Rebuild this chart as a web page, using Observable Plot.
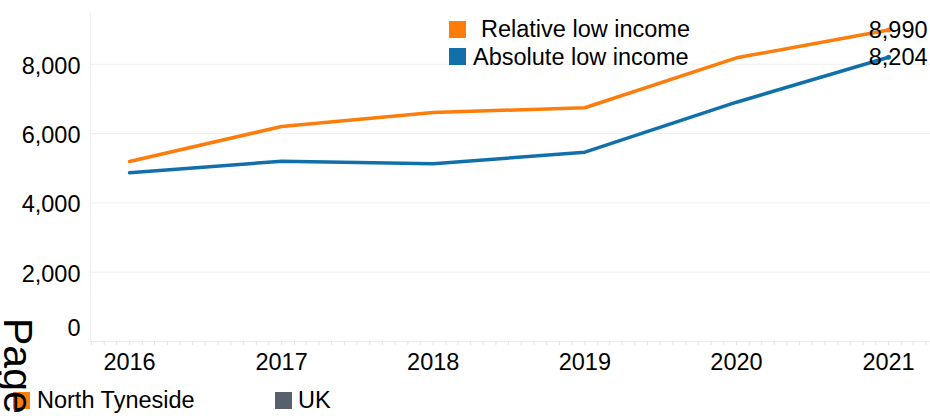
<!DOCTYPE html>
<html>
<head>
<meta charset="utf-8">
<script src="https://cdn.jsdelivr.net/npm/d3@7"></script>
<script src="https://cdn.jsdelivr.net/npm/@observablehq/plot@0.6"></script>
<style>
  html, body { margin: 0; padding: 0; background: #fff; }
  #wrap { position: relative; width: 930px; height: 416px; overflow: hidden; font-family: "Liberation Sans", Arial, sans-serif; }
  #overlay { position: absolute; left: 0; top: 0; pointer-events: none; }
</style>
</head>
<body>
<div id="wrap"></div>
<script>
// ---- data ----
const years = [2016, 2017, 2018, 2019, 2020, 2021];
const relativeLowIncome = [5195, 6205, 6609, 6745, 8187, 8990];
const absoluteLowIncome = [4869, 5204, 5128, 5463, 6906, 8204];
const seriesNames = ["Relative low income", "Absolute low income"];
const seriesColors = ["#fc7d0b", "#1170aa"];
const areaNames = ["North Tyneside", "UK"];
const areaColors = ["#fc7d0b", "#57606c"];
const yTicks = [2000, 4000, 6000, 8000];
const pageLabel = "Page";

// ---- table ----
const toDate = y => new Date(Date.UTC(y, 0, 1));
const rows = [];
years.forEach((y, i) => {
  rows.push({date: toDate(y), value: relativeLowIncome[i], series: seriesNames[0]});
  rows.push({date: toDate(y), value: absoluteLowIncome[i], series: seriesNames[1]});
});
const lastYear = years[years.length - 1];
const lastRows = rows.filter(d => d.date.getUTCFullYear() === lastYear);

const xDomain = [new Date(Date.UTC(2015, 8, 29)), new Date(Date.UTC(2021, 3, 12))];
const fmt = d3.format(",");

const chart = Plot.plot({
  width: 930,
  height: 380,
  marginLeft: 90,
  marginRight: 0,
  marginTop: 12,
  marginBottom: 39,
  style: {fontFamily: "'Liberation Sans', Arial, sans-serif", fontSize: "23.5px", color: "#000", background: "transparent", overflow: "visible"},
  x: {type: "utc", domain: xDomain, label: null},
  y: {domain: [0, 9495], label: null},
  color: {domain: seriesNames, range: seriesColors},
  marks: [
    Plot.gridY(yTicks, {stroke: "#000", strokeOpacity: 0.06}),
    Plot.ruleY([0], {stroke: "#000", strokeOpacity: 0.08}),
    Plot.ruleX([xDomain[0]], {stroke: "#000", strokeOpacity: 0.06}),
    Plot.axisX({ticks: "month", tickSize: 4, stroke: "#e4e4e4", fill: "none", label: null}),
    Plot.axisX({ticks: "year", tickSize: 0, tickPadding: 12, tickFormat: "%Y", fill: "#000", label: null}),
    Plot.axisY(yTicks, {tickSize: 0, tickPadding: 10, tickFormat: fmt, dy: 2, fill: "#000", label: null}),
    Plot.axisY([0], {tickSize: 0, tickPadding: 10, dy: -13, fill: "#000", label: null}),
    Plot.line(rows, {x: "date", y: "value", z: "series", stroke: "series", strokeWidth: 3.5, strokeLinejoin: "round"}),
    Plot.dot(lastRows, {x: "date", y: "value", fill: "series", r: 2.5}),
    Plot.text(lastRows, {x: "date", y: "value", text: d => fmt(d.value), textAnchor: "end", dx: 39, fill: "#000"})
  ]
});
document.getElementById("wrap").appendChild(chart);

// ---- overlay: legends and page label ----
const ns = "http://www.w3.org/2000/svg";
const ov = document.createElementNS(ns, "svg");
ov.setAttribute("id", "overlay");
ov.setAttribute("width", 930);
ov.setAttribute("height", 416);
ov.setAttribute("font-family", "'Liberation Sans', Arial, sans-serif");
function rect(x, y, s, fill) {
  const r = document.createElementNS(ns, "rect");
  r.setAttribute("x", x); r.setAttribute("y", y);
  r.setAttribute("width", s); r.setAttribute("height", s);
  r.setAttribute("fill", fill);
  ov.appendChild(r);
}
function text(x, y, str, size, transform) {
  const t = document.createElementNS(ns, "text");
  t.setAttribute("x", x); t.setAttribute("y", y);
  t.setAttribute("font-size", size);
  t.setAttribute("fill", "#000");
  if (transform) t.setAttribute("transform", transform);
  t.textContent = str;
  ov.appendChild(t);
}
// series legend (top)
rect(449, 21, 17, seriesColors[0]);
text(481, 37, seriesNames[0], 23.5);
rect(449, 48, 17, seriesColors[1]);
text(473, 64.5, seriesNames[1], 23.5);
// area legend (bottom)
rect(13, 392, 17, areaColors[0]);
text(37, 408, areaNames[0], 23.5);
rect(275, 392, 17, areaColors[1]);
text(298, 408, areaNames[1], 23.5);
// rotated page label
text(0, 0, pageLabel, 41, "translate(4,318) rotate(90)");
document.getElementById("wrap").appendChild(ov);
</script>
</body>
</html>
